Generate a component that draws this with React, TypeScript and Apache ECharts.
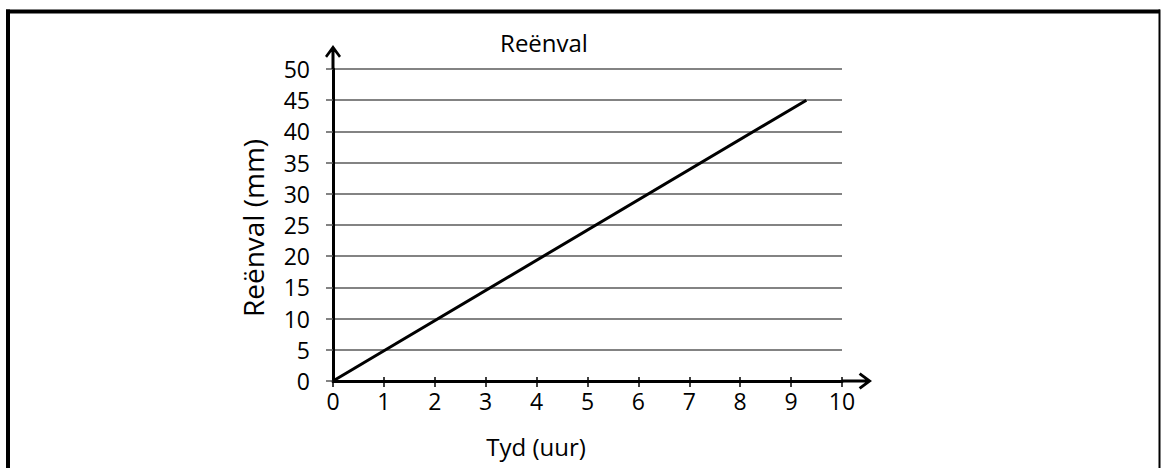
import { useEffect, useRef } from "react";
import * as echarts from "echarts";

const TITLE = "Reënval";
const X_NAME = "Tyd (uur)";
const Y_NAME = "Reënval (mm)";
const X_MIN = 0;
const X_MAX = 10;
const X_STEP = 1;
const Y_MIN = 0;
const Y_MAX = 50;
const Y_STEP = 5;
const timeHours = [0, 9.3];
const rainMm = [0, 45];

const FONT = "'Open Sans', 'Noto Sans', sans-serif";
const INK = "#000000";
const GRID_GRAY = "#5a5a5a";

const X_ARROW =
  "path://M8.5,0 L17,11.5 L14.8,13.3 L8.5,4.8 L2.2,13.3 L0,11.5 Z M7,3 L10,3 L10,30 L7,30 Z";
const Y_ARROW =
  "path://M8,0 L16,11 L14,12.8 L8,4.8 L2,12.8 L0,11 Z M6.5,3 L9.5,3 L9.5,24 L6.5,24 Z";

export default function App() {
  const ref = useRef<HTMLDivElement>(null);

  useEffect(() => {
    if (!ref.current) return;
    const chart = echarts.init(ref.current, null, { renderer: "svg" });
    const points = timeHours.map((t, i) => [t, rainMm[i]]);

    chart.setOption({
      animation: false,
      backgroundColor: "#ffffff",
      grid: { left: 333, right: 319, top: 69, bottom: 87, containLabel: false },
      xAxis: [
        {
          type: "value",
          position: "bottom",
          min: X_MIN,
          max: X_MAX,
          interval: X_STEP,
          axisLine: {
            show: true,
            symbol: ["none", X_ARROW],
            symbolSize: [17, 30],
            symbolOffset: [0, 15],
            lineStyle: { color: "#000", width: 3 },
          },
          axisTick: {
            show: true,
            inside: false,
            length: 6,
            lineStyle: { color: "#000", width: 1.5 },
          },
          axisLabel: {
            show: true,
            margin: 8,
            fontSize: 23,
            fontFamily: FONT,
            color: INK,
          },
          splitLine: { show: false },
        },
        {
          type: "value",
          position: "bottom",
          min: X_MIN,
          max: X_MAX,
          interval: X_STEP,
          axisLine: { show: false },
          axisTick: {
            show: true,
            inside: true,
            length: 4,
            lineStyle: { color: "#000", width: 1.5 },
          },
          axisLabel: { show: false },
          splitLine: { show: false },
        },
      ],
      yAxis: {
        type: "value",
        min: Y_MIN,
        max: Y_MAX,
        interval: Y_STEP,
        axisLine: {
          show: true,
          symbol: ["none", Y_ARROW],
          symbolSize: [16, 24],
          symbolOffset: [0, 12],
          lineStyle: { color: "#000", width: 3 },
        },
        axisTick: {
          show: true,
          length: 7,
          lineStyle: { color: GRID_GRAY, width: 1.5 },
        },
        axisLabel: {
          margin: 23,
          fontSize: 23,
          fontFamily: FONT,
          color: INK,
        },
        splitLine: { show: true, lineStyle: { color: GRID_GRAY, width: 1.5 } },
      },
      series: [
        {
          type: "line",
          data: points,
          xAxisIndex: 0,
          yAxisIndex: 0,
          showSymbol: false,
          symbol: "none",
          lineStyle: { color: "#000", width: 3 },
          z: 5,
        },
      ],
      graphic: [
        { type: "rect", shape: { x: 6, y: 9.5, width: 4, height: 470 }, style: { fill: "#000" } },
        { type: "rect", shape: { x: 6, y: 9.5, width: 1154, height: 4 }, style: { fill: "#000" } },
        { type: "rect", shape: { x: 1158.5, y: 9.5, width: 2, height: 470 }, style: { fill: "#000" } },
        {
          type: "text",
          x: 544,
          y: 42,
          style: {
            text: TITLE,
            fontSize: 24,
            fontFamily: FONT,
            fill: INK,
            align: "center",
            verticalAlign: "middle",
          },
        },
        {
          type: "text",
          x: 536,
          y: 446,
          style: {
            text: X_NAME,
            fontSize: 24,
            fontFamily: FONT,
            fill: INK,
            align: "center",
            verticalAlign: "middle",
          },
        },
        {
          type: "text",
          x: 253,
          y: 228,
          rotation: Math.PI / 2,
          style: {
            text: Y_NAME,
            fontSize: 28,
            fontFamily: FONT,
            fill: INK,
            align: "center",
            verticalAlign: "middle",
          },
        },
      ],
    });

    return () => chart.dispose();
  }, []);

  return (
    <div
      ref={ref}
      style={{ position: "fixed", left: 0, top: 0, width: 1161, height: 468, background: "#fff" }}
    />
  );
}
